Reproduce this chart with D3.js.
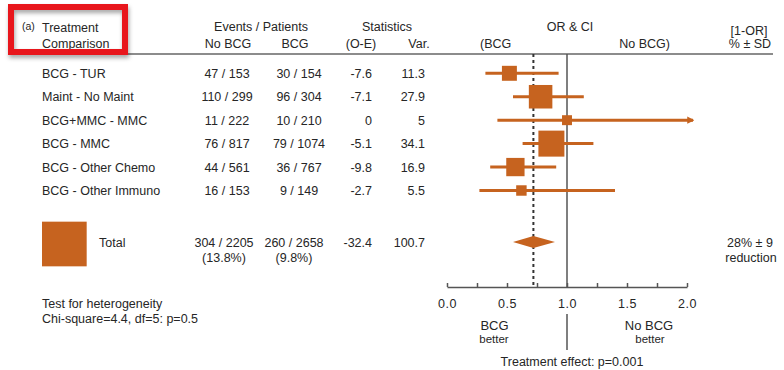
<!DOCTYPE html>
<html>
<head>
<meta charset="utf-8">
<script src="https://cdn.jsdelivr.net/npm/d3@7"></script>
<style>
  html, body { margin: 0; padding: 0; background: #fff; }
  svg { display: block; font-family: "Liberation Sans", Arial, Helvetica, sans-serif; }
  text { fill: #262626; font-size: 12.5px; }
</style>
</head>
<body>
<svg id="chart" width="784" height="370"></svg>
<script>
// Trial comparisons (rows of the forest plot)
const categories = ["BCG - TUR", "Maint - No Maint", "BCG+MMC - MMC", "BCG - MMC", "BCG - Other Chemo", "BCG - Other Immuno"];
const noBcgEvents   = [47, 110, 11, 76, 44, 16];
const noBcgPatients = [153, 299, 222, 817, 561, 153];
const bcgEvents     = [30, 96, 10, 79, 36, 9];
const bcgPatients   = [154, 304, 210, 1074, 767, 149];
const observedMinusExpected = [-7.6, -7.1, 0, -5.1, -9.8, -2.7];
const variance      = [11.3, 27.9, 5, 34.1, 16.9, 5.5];
const oddsRatio     = [0.52, 0.78, 1.0, 0.87, 0.57, 0.62];
const ciLower       = [0.32, 0.55, 0.42, 0.63, 0.36, 0.27];
const ciUpper       = [0.93, 1.14, 2.05, 1.22, 0.91, 1.40];

// Pooled result
const totalNoBcg = { events: 304, patients: 2205, pct: "13.8%" };
const totalBcg   = { events: 260, patients: 2658, pct: "9.8%" };
const totalOE = -32.4;
const totalVariance = 100.7;
const reductionPct = 28;
const reductionSD = 9;
const pooledOR = 1 - reductionPct / 100;
const pooledLower = 0.55;
const pooledUpper = 0.90;

// Axis
const axisTicks = [0, 0.25, 0.5, 0.75, 1, 1.25, 1.5, 1.75, 2];
const axisDomain = [0, 2];
const heterogeneity = ["Test for heterogeneity", "Chi-square=4.4, df=5: p=0.5"];

const orange = "#c6631f";
const svg = d3.select("#chart");

const x = d3.scaleLinear().domain(axisDomain).range([447, 687]);
const y = d3.scalePoint().domain(categories).range([73.3, 190.5]);
const side = d3.scaleSqrt().domain([0, 34.1]).range([0, 26]);

const axisY = 287;
const topY = 54;
const totalY = 242;

// drop shadow for the highlight frame
const defs = svg.append("defs");
const f = defs.append("filter").attr("id", "shadow").attr("x", "-20%").attr("y", "-20%").attr("width", "140%").attr("height", "150%");
f.append("feDropShadow").attr("dx", 1).attr("dy", 3).attr("stdDeviation", 2).attr("flood-color", "#000").attr("flood-opacity", 0.35);

// arrowhead
defs.append("marker").attr("id", "arrow").attr("viewBox", "0 0 10 10")
  .attr("refX", 8).attr("refY", 5).attr("markerWidth", 2.4).attr("markerHeight", 3)
  .attr("orient", "auto").attr("markerUnits", "strokeWidth")
  .append("path").attr("d", "M0,0L10,5L0,10Z").attr("fill", orange);

// ---- header ----
const head = svg.append("g");
head.append("text").attr("x", 22).attr("y", 30).style("font-size", "10.5px").text("(a)");
head.append("text").attr("x", 42).attr("y", 32).text("Treatment");
head.append("text").attr("x", 42).attr("y", 48).text("Comparison");
head.append("text").attr("x", 261).attr("y", 31).attr("text-anchor", "middle").text("Events / Patients");
head.append("text").attr("x", 228).attr("y", 48).attr("text-anchor", "middle").text("No BCG");
head.append("text").attr("x", 295).attr("y", 48).attr("text-anchor", "middle").text("BCG");
head.append("text").attr("x", 387).attr("y", 31).attr("text-anchor", "middle").text("Statistics");
head.append("text").attr("x", 361).attr("y", 48).attr("text-anchor", "middle").text("(O-E)");
head.append("text").attr("x", 419).attr("y", 48).attr("text-anchor", "middle").text("Var.");
head.append("text").attr("x", 570).attr("y", 31).attr("text-anchor", "middle").text("OR & CI");
head.append("text").attr("x", 480).attr("y", 48).text("(BCG");
head.append("text").attr("x", 670).attr("y", 48).attr("text-anchor", "end").text("No BCG)");
head.append("text").attr("x", 749).attr("y", 35).attr("text-anchor", "middle").text("[1-OR]");
head.append("text").attr("x", 750).attr("y", 48).attr("text-anchor", "middle").text("% ± SD");

svg.append("line").attr("x1", 42).attr("x2", 773).attr("y1", topY).attr("y2", topY)
  .attr("stroke", "#666").attr("stroke-width", 1.5);

// ---- reference lines ----
svg.append("line").attr("x1", x(1)).attr("x2", x(1)).attr("y1", topY).attr("y2", axisY)
  .attr("stroke", "#555").attr("stroke-width", 1.5);
svg.append("line").attr("x1", x(pooledOR)).attr("x2", x(pooledOR)).attr("y1", topY).attr("y2", axisY)
  .attr("stroke", "#333").attr("stroke-width", 2).attr("stroke-dasharray", "3,3");

// ---- rows ----
const rows = categories.map((c, i) => ({
  c, i,
  nb: `${noBcgEvents[i]} / ${noBcgPatients[i]}`,
  b: `${bcgEvents[i]} / ${bcgPatients[i]}`,
  oe: observedMinusExpected[i], v: variance[i],
  or: oddsRatio[i], lo: ciLower[i], hi: ciUpper[i]
}));

const row = svg.append("g").selectAll("g").data(rows).join("g")
  .attr("transform", d => `translate(0,${y(d.c)})`);

row.append("text").attr("x", 42).attr("dy", "0.36em").text(d => d.c);
row.append("text").attr("x", 227).attr("dy", "0.36em").attr("text-anchor", "middle").text(d => d.nb);
row.append("text").attr("x", 299).attr("dy", "0.36em").attr("text-anchor", "middle").text(d => d.b);
row.append("text").attr("x", 372).attr("dy", "0.36em").attr("text-anchor", "end").text(d => d.oe);
row.append("text").attr("x", 425).attr("dy", "0.36em").attr("text-anchor", "end").text(d => d.v);

row.append("line")
  .attr("x1", d => x(d.lo)).attr("x2", d => x(d.hi))
  .attr("stroke", orange).attr("stroke-width", 3)
  .attr("marker-end", d => d.hi > axisDomain[1] ? "url(#arrow)" : null);

row.append("rect")
  .attr("x", d => x(d.or) - side(d.v) / 2)
  .attr("y", d => -side(d.v) / 2)
  .attr("width", d => side(d.v))
  .attr("height", d => side(d.v))
  .attr("fill", orange);

// ---- total ----
const tot = svg.append("g").attr("transform", `translate(0,${totalY})`);
const ts = side(totalVariance);
tot.append("rect").attr("x", 42).attr("y", -ts / 2 + 2).attr("width", ts).attr("height", ts).attr("fill", orange);
tot.append("text").attr("x", 99).attr("dy", "0.36em").text("Total");
tot.append("text").attr("x", 224).attr("dy", "0.36em").attr("text-anchor", "middle").text(`${totalNoBcg.events} / ${totalNoBcg.patients}`);
tot.append("text").attr("x", 224).attr("y", 15.5).attr("dy", "0.36em").attr("text-anchor", "middle").text(`(${totalNoBcg.pct})`);
tot.append("text").attr("x", 294).attr("dy", "0.36em").attr("text-anchor", "middle").text(`${totalBcg.events} / ${totalBcg.patients}`);
tot.append("text").attr("x", 294).attr("y", 15.5).attr("dy", "0.36em").attr("text-anchor", "middle").text(`(${totalBcg.pct})`);
tot.append("text").attr("x", 372).attr("dy", "0.36em").attr("text-anchor", "end").text(totalOE);
tot.append("text").attr("x", 425).attr("dy", "0.36em").attr("text-anchor", "end").text(totalVariance);

tot.append("path")
  .attr("d", `M${x(pooledLower)},0L${x(pooledOR)},-6L${x(pooledUpper)},0L${x(pooledOR)},6Z`)
  .attr("fill", orange);

tot.append("text").attr("x", 750).attr("dy", "0.36em").attr("text-anchor", "middle").text(`${reductionPct}% ± ${reductionSD}`);
tot.append("text").attr("x", 751).attr("y", 15).attr("dy", "0.36em").attr("text-anchor", "middle").text("reduction");

// ---- axis ----
const axis = d3.axisBottom(x).tickValues(axisTicks).tickSizeInner(-4).tickSizeOuter(0).tickPadding(12)
  .tickFormat(d => (d * 2) % 1 === 0 ? d3.format(".1f")(d) : "");
const ag = svg.append("g").attr("transform", `translate(0,${axisY})`).call(axis);
ag.select(".domain").attr("stroke", "#555").attr("stroke-width", 1.5);
ag.selectAll(".tick line").attr("stroke", "#555").attr("stroke-width", 1.5);
ag.selectAll(".tick text").attr("fill", "#262626").style("font-size", "12.5px")
  .style("letter-spacing", "0.6px").style("font-family", "'Liberation Sans', Arial, sans-serif");

// ---- favour labels ----
svg.append("line").attr("x1", x(1)).attr("x2", x(1)).attr("y1", 314).attr("y2", 350)
  .attr("stroke", "#555").attr("stroke-width", 1.5);
svg.append("text").attr("x", 494.5).attr("y", 325).attr("dy", "0.36em").attr("text-anchor", "middle").style("font-size", "13px").text("BCG");
svg.append("text").attr("x", 494).attr("y", 339).attr("dy", "0.36em").attr("text-anchor", "middle").style("font-size", "11.5px").text("better");
svg.append("text").attr("x", 649).attr("y", 325).attr("dy", "0.36em").attr("text-anchor", "middle").style("font-size", "13px").text("No BCG");
svg.append("text").attr("x", 650).attr("y", 339).attr("dy", "0.36em").attr("text-anchor", "middle").style("font-size", "11.5px").text("better");
svg.append("text").attr("x", 572).attr("y", 361.5).attr("dy", "0.36em").attr("text-anchor", "middle").style("font-size", "12.5px").text("Treatment effect: p=0.001");

// ---- heterogeneity ----
svg.append("text").attr("x", 42).attr("y", 303.3).attr("dy", "0.36em").text(heterogeneity[0]);
svg.append("text").attr("x", 42).attr("y", 318.3).attr("dy", "0.36em").text(heterogeneity[1]);

// ---- highlight frame around the first column heading ----
svg.append("rect").attr("x", 11).attr("y", 7).attr("width", 114).attr("height", 45)
  .attr("fill", "none").attr("stroke", "#e8141c").attr("stroke-width", 6)
  .attr("filter", "url(#shadow)");
</script>
</body>
</html>
